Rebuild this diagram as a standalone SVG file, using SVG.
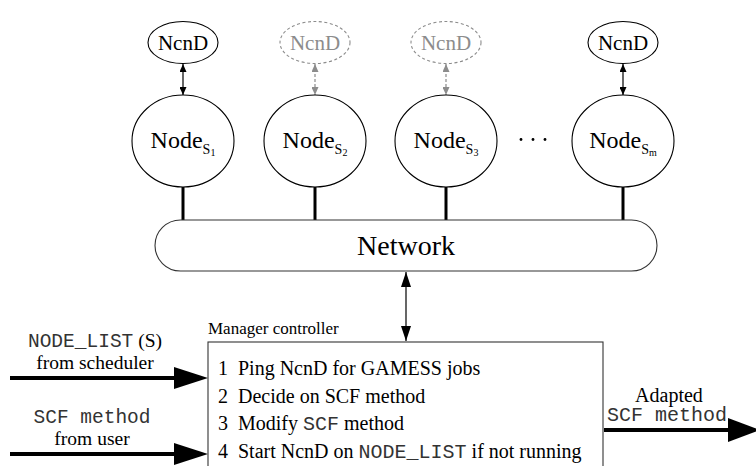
<svg xmlns="http://www.w3.org/2000/svg" width="756" height="466" viewBox="0 0 756 466">
<style>
text{font-family:'Liberation Serif','Times New Roman',Times,serif;fill:#000}
.mono{font-family:'Liberation Mono','Courier New',Courier,monospace;fill:#333}
.ell{fill:#fff;stroke:#000;stroke-width:1.1}
.dash{fill:#fff;stroke:#8c8c8c;stroke-width:1.1;stroke-dasharray:3,2.5}
.ncnd{font-size:21px;text-anchor:middle}
.node{font-size:24px;text-anchor:middle}
.sub{font-size:14px}
.sub2{font-size:10px}
.thin{stroke:#000;stroke-width:1.2;fill:none}
.gthin{stroke:#8c8c8c;stroke-width:1.2;fill:none;stroke-dasharray:3,2}
.thick{stroke:#000;stroke-width:3;fill:none}
.big{stroke:#000;stroke-width:4;fill:none}
.lbl{font-size:20px}
.sl{font-size:19.5px}
</style>
<defs>
<marker id="ah" markerUnits="userSpaceOnUse" markerWidth="8" markerHeight="7" refX="8" refY="3.5" orient="auto-start-reverse"><path d="M0,0 L8,3.5 L0,7 z" fill="#000"/></marker>
<marker id="ahg" markerUnits="userSpaceOnUse" markerWidth="8" markerHeight="7" refX="8" refY="3.5" orient="auto-start-reverse"><path d="M0,0 L8,3.5 L0,7 z" fill="#8c8c8c"/></marker>
<marker id="ahm" markerUnits="userSpaceOnUse" markerWidth="15" markerHeight="10" refX="15" refY="5" orient="auto-start-reverse"><path d="M0,0 L15,5 L0,10 z" fill="#000"/></marker>
</defs>

<g id="connectors">
<line class="thin" x1="183" y1="64" x2="183" y2="95" marker-start="url(#ah)" marker-end="url(#ah)"/>
<line class="gthin" x1="315" y1="64" x2="315" y2="95" marker-start="url(#ahg)" marker-end="url(#ahg)"/>
<line class="gthin" x1="446" y1="64" x2="446" y2="95" marker-start="url(#ahg)" marker-end="url(#ahg)"/>
<line class="thin" x1="623" y1="64" x2="623" y2="95" marker-start="url(#ah)" marker-end="url(#ah)"/>
<line class="thick" x1="183" y1="187" x2="183" y2="220"/>
<line class="thick" x1="315" y1="187" x2="315" y2="220"/>
<line class="thick" x1="446" y1="187" x2="446" y2="220"/>
<line class="thick" x1="623" y1="187" x2="623" y2="220"/>
<line class="thin" x1="406" y1="272" x2="406" y2="341" marker-start="url(#ahm)" marker-end="url(#ahm)"/>
<line class="big" x1="10" y1="378" x2="176" y2="378"/>
<polygon points="174,367 208,378 174,389" fill="#000"/>
<line class="big" x1="10" y1="454" x2="176" y2="454"/>
<polygon points="174,443 208,454 174,465" fill="#000"/>
<line class="big" x1="604" y1="430" x2="730" y2="430"/>
<polygon points="728,418 760,430 728,442" fill="#000"/>
</g>

<g id="ncnd1"><ellipse class="ell" cx="183" cy="42.5" rx="35" ry="21"/><text class="ncnd" x="183" y="50">NcnD</text></g>
<g id="ncnd2"><ellipse class="dash" cx="315" cy="42.5" rx="35" ry="21"/><text class="ncnd" x="315" y="50" style="fill:#8c8c8c">NcnD</text></g>
<g id="ncnd3"><ellipse class="dash" cx="446" cy="42.5" rx="35" ry="21"/><text class="ncnd" x="446" y="50" style="fill:#8c8c8c">NcnD</text></g>
<g id="ncndm"><ellipse class="ell" cx="623" cy="42.5" rx="35" ry="21"/><text class="ncnd" x="623" y="50">NcnD</text></g>

<g id="node1"><ellipse class="ell" cx="183" cy="141" rx="51" ry="46"/><text class="node" x="183" y="148">Node<tspan class="sub" dy="6">S</tspan><tspan class="sub2" dy="2">1</tspan></text></g>
<g id="node2"><ellipse class="ell" cx="315" cy="141" rx="51" ry="46"/><text class="node" x="315" y="148">Node<tspan class="sub" dy="6">S</tspan><tspan class="sub2" dy="2">2</tspan></text></g>
<g id="node3"><ellipse class="ell" cx="446" cy="141" rx="51" ry="46"/><text class="node" x="446" y="148">Node<tspan class="sub" dy="6">S</tspan><tspan class="sub2" dy="2">3</tspan></text></g>
<g id="nodem"><ellipse class="ell" cx="623" cy="141" rx="51" ry="46"/><text class="node" x="623" y="148">Node<tspan class="sub" dy="6">S</tspan><tspan class="sub2" dy="2">m</tspan></text></g>

<g id="dots"><circle cx="521" cy="139.5" r="1.4" fill="#000"/><circle cx="533" cy="139.5" r="1.4" fill="#000"/><circle cx="545" cy="139.5" r="1.4" fill="#000"/></g>

<g id="network"><rect x="155" y="220" width="502" height="51" rx="25.5" ry="25.5" fill="#fff" stroke="#333" stroke-width="1.1"/><text x="406" y="255" font-size="28" text-anchor="middle">Network</text></g>

<g id="manager">
<text x="208" y="334" font-size="17">Manager controller</text>
<rect x="208" y="342" width="395" height="140" fill="#fff" stroke="#333" stroke-width="1.1"/>
<text class="lbl" x="218" y="375">1</text><text class="lbl" x="238" y="375">Ping NcnD for GAMESS jobs</text>
<text class="lbl" x="218" y="403">2</text><text class="lbl" x="238" y="403">Decide on SCF method</text>
<text class="lbl" x="218" y="430">3</text><text class="lbl" x="238" y="430">Modify <tspan class="mono">SCF</tspan> method</text>
<text class="lbl" x="218" y="458">4</text><text class="lbl" x="238" y="458">Start NcnD on <tspan class="mono">NODE_LIST</tspan> if not running</text>
</g>

<g id="labels">
<text class="sl" x="95" y="347" text-anchor="middle"><tspan class="mono">NODE_LIST</tspan> (S)</text>
<text class="sl" x="95" y="369" text-anchor="middle">from scheduler</text>
<text class="mono sl" x="92" y="423" text-anchor="middle">SCF method</text>
<text class="sl" x="92" y="445" text-anchor="middle">from user</text>
<text class="lbl" x="669" y="402" text-anchor="middle">Adapted</text>
<text class="mono lbl" x="607" y="421">SCF method</text>
</g>
</svg>
